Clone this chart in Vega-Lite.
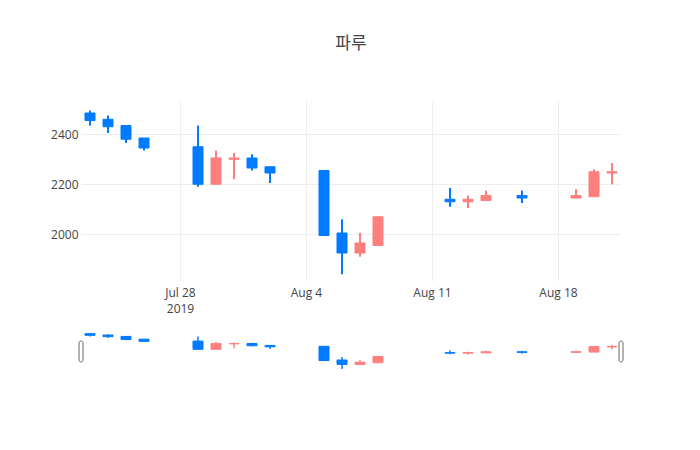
{
  "$schema": "https://vega.github.io/schema/vega-lite/v6.json",
  "padding": {"left": 50, "top": 35, "right": 20, "bottom": 10},
  "background": "white",
  "bounds": "flush",
  "spacing": 48,
  "title": {
    "text": "파루",
    "font": "Open Sans, Noto Sans CJK KR",
    "fontSize": 17,
    "fontWeight": "normal",
    "color": "#444",
    "anchor": "middle",
    "frame": "group",
    "baseline": "bottom",
    "offset": 31
  },
  "datasets": {
    "candles": [
      {"date": "2019-07-23T00:00:00", "open": 2485, "high": 2495, "low": 2435, "close": 2455},
      {"date": "2019-07-24T00:00:00", "open": 2460, "high": 2475, "low": 2405, "close": 2430},
      {"date": "2019-07-25T00:00:00", "open": 2435, "high": 2435, "low": 2365, "close": 2380},
      {"date": "2019-07-26T00:00:00", "open": 2385, "high": 2385, "low": 2335, "close": 2345},
      {"date": "2019-07-29T00:00:00", "open": 2350, "high": 2435, "low": 2190, "close": 2200},
      {"date": "2019-07-30T00:00:00", "open": 2200, "high": 2335, "low": 2200, "close": 2305},
      {"date": "2019-07-31T00:00:00", "open": 2300, "high": 2325, "low": 2220, "close": 2305},
      {"date": "2019-08-01T00:00:00", "open": 2305, "high": 2320, "low": 2255, "close": 2265},
      {"date": "2019-08-02T00:00:00", "open": 2270, "high": 2270, "low": 2205, "close": 2245},
      {"date": "2019-08-05T00:00:00", "open": 2255, "high": 2255, "low": 1995, "close": 1995},
      {"date": "2019-08-06T00:00:00", "open": 2005, "high": 2060, "low": 1840, "close": 1925},
      {"date": "2019-08-07T00:00:00", "open": 1925, "high": 2005, "low": 1910, "close": 1965},
      {"date": "2019-08-08T00:00:00", "open": 1955, "high": 2070, "low": 1955, "close": 2070},
      {"date": "2019-08-12T00:00:00", "open": 2140, "high": 2185, "low": 2110, "close": 2130},
      {"date": "2019-08-13T00:00:00", "open": 2130, "high": 2155, "low": 2105, "close": 2140},
      {"date": "2019-08-14T00:00:00", "open": 2135, "high": 2175, "low": 2135, "close": 2155},
      {"date": "2019-08-16T00:00:00", "open": 2155, "high": 2175, "low": 2125, "close": 2145},
      {"date": "2019-08-19T00:00:00", "open": 2145, "high": 2180, "low": 2145, "close": 2155},
      {"date": "2019-08-20T00:00:00", "open": 2150, "high": 2260, "low": 2150, "close": 2250},
      {"date": "2019-08-21T00:00:00", "open": 2245, "high": 2285, "low": 2200, "close": 2250}
    ],
    "handles": [
      {"date": "2019-07-22T12:00:00", "top": 2351, "bottom": 1969},
      {"date": "2019-08-21T12:00:00", "top": 2351, "bottom": 1969}
    ]
  },
  "vconcat": [
    {
      "width": 540,
      "height": 180,
      "data": {"name": "candles"},
      "encoding": {
        "x": {
          "field": "date",
          "type": "temporal",
          "title": null,
          "scale": {
            "padding": 0,
            "domain": [
              {"year": 2019, "month": "jul", "date": 22, "hours": 12},
              {"year": 2019, "month": "aug", "date": 21, "hours": 12}
            ]
          },
          "axis": {
            "values": [
              {"year": 2019, "month": "jul", "date": 28},
              {"year": 2019, "month": "aug", "date": 4},
              {"year": 2019, "month": "aug", "date": 11},
              {"year": 2019, "month": "aug", "date": 18}
            ],
            "labelExpr": "date(datum.value) == 28 ? [timeFormat(datum.value, '%b %-d'), '2019'] : timeFormat(datum.value, '%b %-d')",
            "labelPadding": 6,
            "labelLineHeight": 16
          }
        },
        "color": {
          "condition": {"test": "datum.open < datum.close", "value": "#ff7f7f"},
          "value": "#007bff"
        }
      },
      "layer": [
        {
          "mark": {"type": "rule", "strokeWidth": 2},
          "encoding": {
            "y": {
              "field": "low",
              "type": "quantitative",
              "title": null,
              "scale": {"domain": [1813, 2533], "nice": false, "zero": false},
              "axis": {
                "values": [2000, 2200, 2400],
                "format": "d",
                "labelPadding": 3,
                "minExtent": 30,
                "maxExtent": 30
              }
            },
            "y2": {"field": "high"}
          }
        },
        {
          "mark": {"type": "bar", "width": 10, "strokeWidth": 1},
          "encoding": {
            "y": {"field": "open", "type": "quantitative"},
            "y2": {"field": "close"},
            "stroke": {
              "condition": {"test": "datum.open < datum.close", "value": "#ff7f7f"},
              "value": "#007bff"
            }
          }
        }
      ]
    },
    {
      "width": 540,
      "height": 45,
      "encoding": {
        "x": {
          "field": "date",
          "type": "temporal",
          "axis": null,
          "scale": {
            "padding": 0,
            "domain": [
              {"year": 2019, "month": "jul", "date": 22, "hours": 12},
              {"year": 2019, "month": "aug", "date": 21, "hours": 12}
            ]
          }
        }
      },
      "layer": [
        {
          "data": {"name": "candles"},
          "encoding": {
            "color": {
              "condition": {"test": "datum.open < datum.close", "value": "#ff7f7f"},
              "value": "#007bff"
            }
          },
          "layer": [
            {
              "mark": {"type": "rule", "strokeWidth": 1.5},
              "encoding": {
                "y": {
                  "field": "low",
                  "type": "quantitative",
                  "axis": null,
                  "scale": {"domain": [1750, 2570], "nice": false, "zero": false}
                },
                "y2": {"field": "high"}
              }
            },
            {
              "mark": {"type": "bar", "width": 10, "strokeWidth": 1},
              "encoding": {
                "y": {"field": "open", "type": "quantitative"},
                "y2": {"field": "close"},
                "stroke": {
                  "condition": {"test": "datum.open < datum.close", "value": "#ff7f7f"},
                  "value": "#007bff"
                }
              }
            }
          ]
        },
        {
          "data": {"name": "handles"},
          "mark": {
            "type": "bar",
            "width": 4,
            "fill": "white",
            "stroke": "#666",
            "strokeWidth": 1,
            "cornerRadius": 2,
            "clip": false
          },
          "encoding": {
            "y": {"field": "top", "type": "quantitative"},
            "y2": {"field": "bottom"}
          }
        }
      ]
    }
  ],
  "config": {
    "view": {"stroke": null},
    "axis": {
      "domain": false,
      "ticks": false,
      "gridColor": "#eee",
      "gridWidth": 1,
      "labelColor": "#444",
      "labelFont": "Open Sans",
      "labelFontSize": 12
    }
  }
}
